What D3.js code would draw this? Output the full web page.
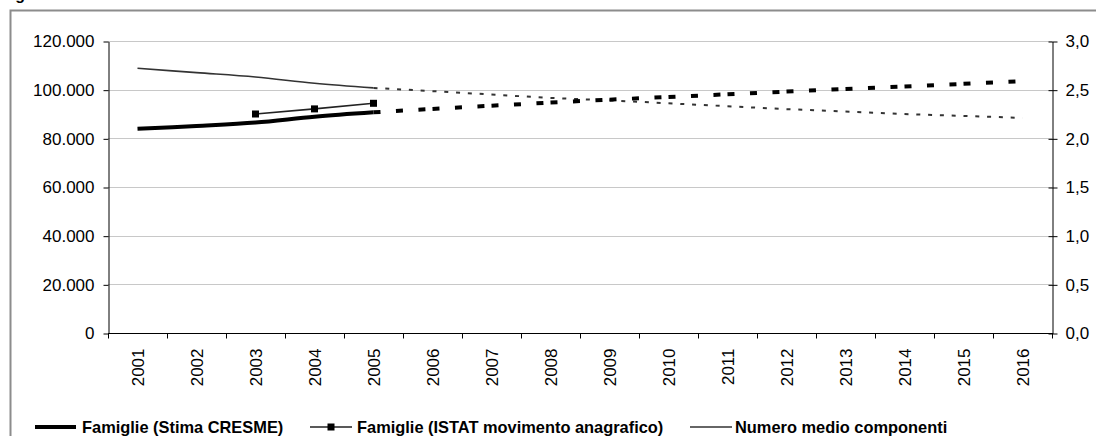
<!DOCTYPE html>
<html>
<head>
<meta charset="utf-8">
<script src="https://cdn.jsdelivr.net/npm/d3@7"></script>
<style>
  body { margin: 0; background: #fff; }
  svg text { font-family: Arial, "Liberation Sans", sans-serif; fill: #000; }
</style>
</head>
<body>
<div id="chart"></div>
<script>
// data
var years = ["2001","2002","2003","2004","2005","2006","2007","2008","2009","2010","2011","2012","2013","2014","2015","2016"];
var cresme = [83900, 85100, 86500, 88900, 90700, 92100, 93400, 94700, 95900, 97000, 98100, 99200, 100300, 101300, 102400, 103500];
var istatYears = ["2003","2004","2005"];
var istat = [90000, 92100, 94400];
var componenti = [2.72, 2.675, 2.63, 2.566, 2.518, 2.485, 2.45, 2.415, 2.39, 2.36, 2.33, 2.30, 2.275, 2.25, 2.23, 2.21];
var lastObserved = 4; // index of 2005, after that it is a projection
var leftTicks = [0, 20000, 40000, 60000, 80000, 100000, 120000];
var rightTicks = [0, 0.5, 1, 1.5, 2, 2.5, 3];
var legendLabels = ["Famiglie (Stima CRESME)", "Famiglie (ISTAT movimento anagrafico)", "Numero medio componenti"];

var w = 1096, h = 436;
var plotL = 108, plotR = 1052, plotT = 41, plotB = 333;

var it = d3.formatLocale({decimal: ",", thousands: ".", grouping: [3], currency: ["", ""]});
var fmtLeft = it.format(",");
var fmtRight = it.format(",.1f");

var svg = d3.select("#chart").append("svg")
  .attr("width", w)
  .attr("height", h);

// outer frame (right and bottom edges fall outside the picture)
svg.append("rect")
  .attr("x", 10.5).attr("y", 10.5)
  .attr("width", 1200).attr("height", 600)
  .attr("fill", "none")
  .attr("stroke", "#8c8c8c")
  .attr("stroke-width", 2);

// title, cut off above the frame: only the tail of the g shows
svg.append("text")
  .attr("x", 1).attr("y", -0.5)
  .attr("font-size", 16).attr("font-weight", "bold")
  .text("Figura");

var x = d3.scaleBand().domain(years).range([plotL, plotR]);
var y = d3.scaleLinear().domain([0, 120000]).range([plotB, plotT]);
var y2 = d3.scaleLinear().domain([0, 3]).range([plotB, plotT]);
var cx = function(yr) { return x(yr) + x.bandwidth() / 2; };

// gridlines
svg.append("g").selectAll("line")
  .data(leftTicks.filter(function(d) { return d > 0; }))
  .enter().append("line")
    .attr("x1", plotL).attr("x2", plotR)
    .attr("y1", function(d) { return Math.round(y(d)) + 0.5; })
    .attr("y2", function(d) { return Math.round(y(d)) + 0.5; })
    .attr("stroke", "#c8c8c8")
    .attr("stroke-width", 1);

// left axis
var gl = svg.append("g")
  .attr("transform", "translate(" + (plotL + 0.5) + ",0.5)")
  .call(d3.axisLeft(y).tickValues(leftTicks).tickFormat(fmtLeft).tickSize(5).tickSizeOuter(0));
gl.selectAll("text").attr("font-size", 17).attr("dx", "-6");

// right axis, ticks cross the line
var gr = svg.append("g")
  .attr("transform", "translate(" + (plotR + 0.5) + ",0.5)")
  .call(d3.axisRight(y2).tickValues(rightTicks).tickFormat(fmtRight).tickSize(5).tickSizeOuter(0));
gr.selectAll(".tick line").attr("x1", -4);
gr.selectAll("text").attr("font-size", 17).attr("dx", "5");

svg.selectAll(".domain").attr("stroke", "#000");
svg.selectAll(".tick line").attr("stroke", "#000");
svg.selectAll(".tick text").attr("fill", "#000").style("font-family", "Arial, 'Liberation Sans', sans-serif");

// bottom axis: ticks on category borders, labels turned upright
var gx = svg.append("g").attr("transform", "translate(0," + (plotB + 0.5) + ")");
gx.append("line")
  .attr("x1", plotL).attr("x2", plotR + 1)
  .attr("stroke", "#000");
gx.selectAll("line.tk")
  .data(years.concat(["end"]))
  .enter().append("line")
    .attr("class", "tk")
    .attr("x1", function(d, i) { return Math.round(plotL + i * x.step()) + 0.5; })
    .attr("x2", function(d, i) { return Math.round(plotL + i * x.step()) + 0.5; })
    .attr("y1", 0).attr("y2", 5)
    .attr("stroke", "#000");
gx.selectAll("text")
  .data(years)
  .enter().append("text")
    .attr("transform", function(d) { return "translate(" + (cx(d) + 6) + ",15) rotate(-90)"; })
    .attr("text-anchor", "end")
    .attr("font-size", 17)
    .text(function(d) { return d; });

// series
var lineL = d3.line().x(function(d) { return cx(d[0]); }).y(function(d) { return y(d[1]); });
var lineR = d3.line().x(function(d) { return cx(d[0]); }).y(function(d) { return y2(d[1]); });

var cresmePts = years.map(function(yr, i) { return [yr, cresme[i]]; });
var compPts = years.map(function(yr, i) { return [yr, componenti[i]]; });

// observed part
svg.append("path")
  .datum(cresmePts.slice(0, lastObserved + 1))
  .attr("d", lineL.curve(d3.curveCatmullRom))
  .attr("fill", "none").attr("stroke", "#000").attr("stroke-width", 4);

svg.append("path")
  .datum(compPts.slice(0, lastObserved + 1))
  .attr("d", lineR.curve(d3.curveCatmullRom))
  .attr("fill", "none").attr("stroke", "#333").attr("stroke-width", 1.6);

lineL.curve(d3.curveLinear);
lineR.curve(d3.curveLinear);

// projection: each segment drawn on its own so the dash restarts, like the original
for (var i = lastObserved; i < years.length - 1; i++) {
  svg.append("path")
    .datum([compPts[i], compPts[i + 1]])
    .attr("d", lineR)
    .attr("fill", "none").attr("stroke", "#333").attr("stroke-width", 2)
    .attr("stroke-dasharray", "4,7.8");
  svg.append("path")
    .datum([cresmePts[i], cresmePts[i + 1]])
    .attr("d", lineL)
    .attr("fill", "none").attr("stroke", "#000").attr("stroke-width", 4)
    .attr("stroke-dasharray", "7,15.5");
}

var istatPts = istatYears.map(function(yr, i) { return [yr, istat[i]]; });
svg.append("path")
  .datum(istatPts)
  .attr("d", lineL)
  .attr("fill", "none").attr("stroke", "#222").attr("stroke-width", 1.6);
svg.append("g").selectAll("rect")
  .data(istatPts)
  .enter().append("rect")
    .attr("x", function(d) { return cx(d[0]) - 3.5; })
    .attr("y", function(d) { return y(d[1]) - 3.5; })
    .attr("width", 7).attr("height", 7)
    .attr("fill", "#000");

// legend
var legY = 427;
var leg = svg.append("g");
leg.append("line").attr("x1", 35).attr("x2", 76).attr("y1", legY).attr("y2", legY)
  .attr("stroke", "#000").attr("stroke-width", 4);
leg.append("text").attr("x", 82).attr("y", legY + 6).text(legendLabels[0]);

leg.append("line").attr("x1", 310).attr("x2", 352).attr("y1", legY).attr("y2", legY)
  .attr("stroke", "#222").attr("stroke-width", 1.6);
leg.append("rect").attr("x", 327.5).attr("y", legY - 3.5).attr("width", 7).attr("height", 7).attr("fill", "#000");
leg.append("text").attr("x", 357).attr("y", legY + 6).text(legendLabels[1]);

leg.append("line").attr("x1", 690).attr("x2", 732).attr("y1", legY).attr("y2", legY)
  .attr("stroke", "#333").attr("stroke-width", 1.6);
leg.append("text").attr("x", 735).attr("y", legY + 6).text(legendLabels[2]);

leg.selectAll("text").attr("font-size", 16.4).attr("font-weight", "bold");
</script>
</body>
</html>
